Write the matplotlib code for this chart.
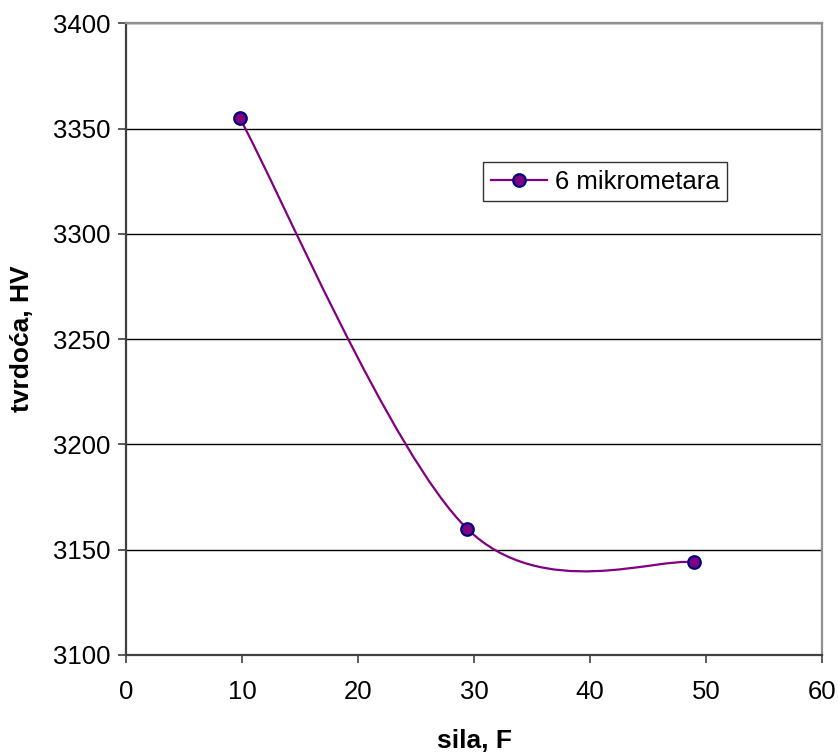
import numpy as np
import matplotlib
matplotlib.use("Agg")
import matplotlib.pyplot as plt
from matplotlib.path import Path
from matplotlib.patches import PathPatch

plt.rcParams['font.family'] = ['Liberation Sans', 'DejaVu Sans']

force = [9.8, 29.4, 49.0]
hardness = [3355, 3160, 3144]
series_label = "6 mikrometara"
x_label = "sila, F"
y_label = "tvrdoća, HV"
x_ticks = [0, 10, 20, 30, 40, 50, 60]
y_ticks = [3100, 3150, 3200, 3250, 3300, 3350, 3400]

fig = plt.figure(figsize=(8.38, 7.53), dpi=100)
ax = fig.add_axes([126/838, 1-655/753, (822-126)/838, (655-23.3)/753])

ax.set_xlim(0, 60)
ax.set_ylim(3100, 3400)

# Excel-style smoothed line (Catmull-Rom Bezier through data points)
line_color = '#800080'
pts = np.column_stack([force, hardness]).astype(float)
ext = np.vstack([pts[0], pts, pts[-1]])
verts = [tuple(pts[0])]
codes = [Path.MOVETO]
for i in range(len(pts) - 1):
    p0, p1, p2, p3 = ext[i], ext[i+1], ext[i+2], ext[i+3]
    c1 = p1 + (p2 - p0) / 6.0
    c2 = p2 - (p3 - p1) / 6.0
    verts += [tuple(c1), tuple(c2), tuple(p2)]
    codes += [Path.CURVE4] * 3
patch = PathPatch(Path(verts, codes), facecolor='none', edgecolor=line_color, lw=1.6, zorder=3)
ax.add_patch(patch)

ax.plot(force, hardness, linestyle='none', marker='o', markersize=9,
        markerfacecolor='#800080', markeredgecolor='#000080', markeredgewidth=1.6, zorder=4)

# legend proxy
ax.plot([], [], color=line_color, lw=1.6, marker='o', markersize=9,
        markerfacecolor='#800080', markeredgecolor='#000080', markeredgewidth=1.6,
        label=series_label)
leg = ax.legend(loc='upper left', bbox_to_anchor=((483-126)/696, 1-(162-23.3)/631.7),
                frameon=True, fancybox=False, fontsize=18.5, handlelength=2.2,
                borderpad=0.3, handletextpad=0.3, borderaxespad=0)
leg.get_frame().set_edgecolor('#000000')
leg.get_frame().set_linewidth(1.0)

ax.set_xticks(x_ticks)
ax.set_yticks(y_ticks)
ax.tick_params(axis='both', labelsize=18.5, direction='out', length=6, width=1.2,
               colors='#404040', labelcolor='black', pad=5)
ax.tick_params(axis='x', pad=12)

ax.grid(axis='y', color='#000000', lw=1.0)
ax.set_axisbelow(True)

for s in ['left', 'bottom']:
    ax.spines[s].set_color('#404040')
    ax.spines[s].set_linewidth(1.6)
for s in ['top', 'right']:
    ax.spines[s].set_color('#909090')
    ax.spines[s].set_linewidth(1.6)

ax.set_xlabel(x_label, fontsize=19, fontweight='bold', labelpad=18)
ax.set_ylabel(y_label, fontsize=19, fontweight='bold', labelpad=14)

fig.savefig('out.png', dpi=100, facecolor='white')
